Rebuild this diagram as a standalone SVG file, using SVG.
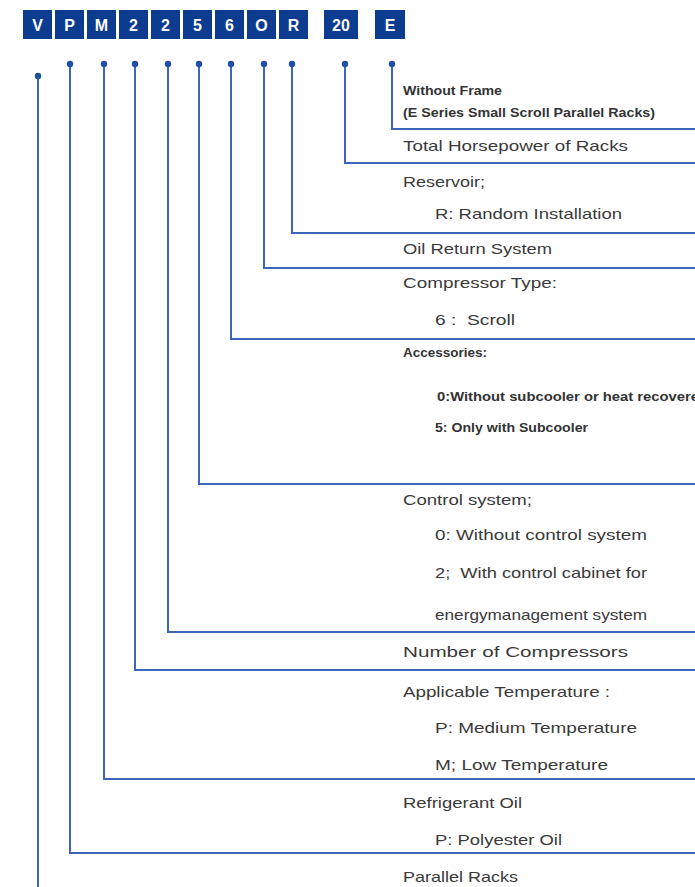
<svg xmlns="http://www.w3.org/2000/svg" width="695" height="887" viewBox="0 0 695 887">
<style>
.box{fill:#0c3c8f}
.bt{font-family:"Liberation Sans",Arial,sans-serif;font-weight:bold;font-size:16px;fill:#ffffff;text-anchor:middle}
.ln{fill:none;stroke:#3d66b8;stroke-width:2}
.dot{fill:#1f4ea6}
.t{font-family:"Liberation Sans",Arial,sans-serif;font-size:15px;fill:#3a3a3a;white-space:pre}
.s{font-family:"Liberation Sans",Arial,sans-serif;font-size:13px;fill:#333333;font-weight:bold}
</style>
<rect width="695" height="887" fill="#ffffff"/>
<g id="code">
<g id="c-V"><rect class="box" x="23" y="10" width="29" height="29"/><text class="bt" x="37.5" y="31">V</text></g>
<g id="c-P"><rect class="box" x="55" y="10" width="29" height="29"/><text class="bt" x="69.5" y="31">P</text></g>
<g id="c-M"><rect class="box" x="87" y="10" width="29" height="29"/><text class="bt" x="101.5" y="31">M</text></g>
<g id="c-2a"><rect class="box" x="119" y="10" width="29" height="29"/><text class="bt" x="133.5" y="31">2</text></g>
<g id="c-2b"><rect class="box" x="151" y="10" width="29" height="29"/><text class="bt" x="165.5" y="31">2</text></g>
<g id="c-5"><rect class="box" x="183" y="10" width="29" height="29"/><text class="bt" x="197.5" y="31">5</text></g>
<g id="c-6"><rect class="box" x="215" y="10" width="29" height="29"/><text class="bt" x="229.5" y="31">6</text></g>
<g id="c-O"><rect class="box" x="247" y="10" width="29" height="29"/><text class="bt" x="261.5" y="31">O</text></g>
<g id="c-R"><rect class="box" x="279" y="10" width="29" height="29"/><text class="bt" x="293.5" y="31">R</text></g>
<g id="c-20"><rect class="box" x="324" y="10" width="34" height="29"/><text class="bt" x="341" y="31">20</text></g>
<g id="c-E"><rect class="box" x="375" y="10" width="30" height="29"/><text class="bt" x="390" y="31">E</text></g>
</g>
<g id="connectors">
<path class="ln" d="M38 76V887"/>
<path class="ln" d="M70 64V853H695"/>
<path class="ln" d="M104 64V779H695"/>
<path class="ln" d="M135 64V670H695"/>
<path class="ln" d="M168 64V632H695"/>
<path class="ln" d="M199 64V484H695"/>
<path class="ln" d="M231 64V339H695"/>
<path class="ln" d="M264 64V268H695"/>
<path class="ln" d="M292 64V233H695"/>
<path class="ln" d="M345 64V163H695"/>
<path class="ln" d="M392 64V129H695"/>
<circle class="dot" cx="38" cy="76" r="3.2"/>
<circle class="dot" cx="70" cy="64" r="3.2"/>
<circle class="dot" cx="104" cy="64" r="3.2"/>
<circle class="dot" cx="135" cy="64" r="3.2"/>
<circle class="dot" cx="168" cy="64" r="3.2"/>
<circle class="dot" cx="199" cy="64" r="3.2"/>
<circle class="dot" cx="231" cy="64" r="3.2"/>
<circle class="dot" cx="264" cy="64" r="3.2"/>
<circle class="dot" cx="292" cy="64" r="3.2"/>
<circle class="dot" cx="345" cy="64" r="3.2"/>
<circle class="dot" cx="392" cy="64" r="3.2"/>
</g>
<g id="labels">
<g id="l-E"><text class="s" x="403" y="95" textLength="99" lengthAdjust="spacingAndGlyphs">Without Frame</text><text class="s" x="403" y="117" textLength="252" lengthAdjust="spacingAndGlyphs">(E Series Small Scroll Parallel Racks)</text></g>
<g id="l-20"><text class="t" x="403" y="151" textLength="225" lengthAdjust="spacingAndGlyphs">Total Horsepower of Racks</text></g>
<g id="l-R"><text class="t" x="403" y="187" textLength="82" lengthAdjust="spacingAndGlyphs">Reservoir;</text><text class="t" x="435" y="219" textLength="187" lengthAdjust="spacingAndGlyphs">R: Random Installation</text></g>
<g id="l-O"><text class="t" x="403" y="254" textLength="149" lengthAdjust="spacingAndGlyphs">Oil Return System</text></g>
<g id="l-6"><text class="t" x="403" y="288" textLength="154" lengthAdjust="spacingAndGlyphs">Compressor Type:</text><text class="t" x="435" y="325" textLength="80" lengthAdjust="spacingAndGlyphs">6 :  Scroll</text></g>
<g id="l-5"><text class="s" x="403" y="357" textLength="84" lengthAdjust="spacingAndGlyphs">Accessories:</text><text class="s" x="437" y="401" textLength="262" lengthAdjust="spacingAndGlyphs">0:Without subcooler or heat recovere</text><text class="s" x="435" y="432" textLength="153" lengthAdjust="spacingAndGlyphs">5: Only with Subcooler</text></g>
<g id="l-2b"><text class="t" x="403" y="505" textLength="129" lengthAdjust="spacingAndGlyphs">Control system;</text><text class="t" x="435" y="540" textLength="212" lengthAdjust="spacingAndGlyphs">0: Without control system</text><text class="t" x="435" y="578" textLength="212" lengthAdjust="spacingAndGlyphs">2;  With control cabinet for</text><text class="t" x="435" y="620" textLength="212" lengthAdjust="spacingAndGlyphs">energymanagement system</text></g>
<g id="l-2a"><text class="t" x="403" y="657" textLength="225" lengthAdjust="spacingAndGlyphs">Number of Compressors</text></g>
<g id="l-M"><text class="t" x="403" y="697" textLength="207" lengthAdjust="spacingAndGlyphs">Applicable Temperature :</text><text class="t" x="435" y="733" textLength="202" lengthAdjust="spacingAndGlyphs">P: Medium Temperature</text><text class="t" x="435" y="770" textLength="173" lengthAdjust="spacingAndGlyphs">M; Low Temperature</text></g>
<g id="l-P"><text class="t" x="403" y="808" textLength="119" lengthAdjust="spacingAndGlyphs">Refrigerant Oil</text><text class="t" x="435" y="845" textLength="127" lengthAdjust="spacingAndGlyphs">P: Polyester Oil</text></g>
<g id="l-V"><text class="t" x="403" y="882" textLength="115" lengthAdjust="spacingAndGlyphs">Parallel Racks</text></g>
</g>
</svg>
